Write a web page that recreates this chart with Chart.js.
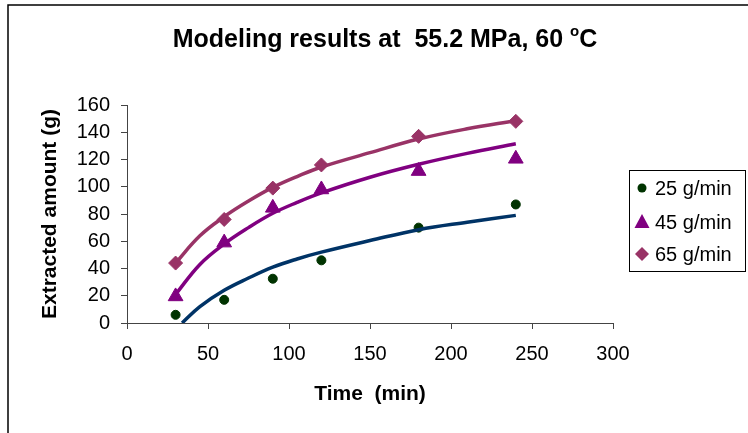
<!DOCTYPE html>
<html>
<head>
<meta charset="utf-8">
<title>Modeling results</title>
<script src="https://cdn.jsdelivr.net/npm/chart.js@4/dist/chart.umd.min.js"></script>
<style>
  html, body { margin: 0; padding: 0; background: #fff; }
  #wrap { width: 748px; height: 433px; }
</style>
</head>
<body>
<div id="wrap"><canvas id="model-chart" width="748" height="433"></canvas></div>
<script>
'use strict';

// measured points
var expTime = [30, 60, 90, 120, 180, 240];
var exp25 = [6, 17, 32.5, 46, 70, 87];
var exp45 = [19.5, 59, 84.5, 98, 111.5, 120.5];
var exp65 = [44, 76, 99, 116, 137, 148];

// model curves
var model25Time = [34, 45, 60, 75, 90, 105, 120, 150, 180, 210, 240];
var model25 = [0, 12, 24, 33, 41, 47, 52, 60.5, 68.5, 74, 79];
var modelTime = [30, 45, 60, 75, 90, 105, 120, 150, 180, 210, 240];
var model45 = [21, 43, 58, 70, 80.5, 88.5, 95.5, 107, 116.5, 124.5, 131.5];
var model65 = [44, 64, 78, 89.5, 99.5, 107.5, 114.5, 125, 135, 142.5, 148.5];

var seriesLabels = ['25 g/min', '45 g/min', '65 g/min'];
var xTicks = [0, 50, 100, 150, 200, 250, 300];
var yTicks = [0, 20, 40, 60, 80, 100, 120, 140, 160];

var FONT = '"Liberation Sans", Arial, sans-serif';
var AXIS_COLOR = '#444';

function toPoints(xs, ys) {
  return xs.map(function(x, i) { return { x: x, y: ys[i] }; });
}

function curve(xs, ys, color) {
  return {
    data: toPoints(xs, ys),
    showLine: true,
    borderColor: color,
    borderWidth: 3.5,
    pointRadius: 0,
    pointHoverRadius: 0,
    tension: 0.4,
    fill: false,
    isModel: true
  };
}

function marks(xs, ys, label, color, style, radius) {
  return {
    label: label,
    data: toPoints(xs, ys),
    showLine: false,
    pointStyle: style,
    pointRadius: radius,
    pointBackgroundColor: color,
    pointBorderColor: color,
    pointBorderWidth: 1,
    backgroundColor: color,
    borderColor: color
  };
}

// frame, title and legend, drawn like the spreadsheet chart
var decorPlugin = {
  id: 'decor',
  beforeDraw: function(chart) {
    var ctx = chart.ctx;
    ctx.save();
    ctx.fillStyle = '#fff';
    ctx.fillRect(0, 0, chart.width, chart.height);
    ctx.strokeStyle = '#000';
    ctx.lineWidth = 1.5;
    ctx.beginPath();
    ctx.moveTo(8, chart.height);
    ctx.lineTo(8, 5);
    ctx.lineTo(chart.width, 5);
    ctx.stroke();
    ctx.restore();
  },
  afterDraw: function(chart) {
    var ctx = chart.ctx;
    ctx.save();

    // title with superscript degree sign
    var main = 'Modeling results at  55.2 MPa, 60 ';
    var big = 'bold 25px ' + FONT;
    var small = 'bold 15px ' + FONT;
    ctx.font = big;
    var w1 = ctx.measureText(main).width;
    var w3 = ctx.measureText('C').width;
    ctx.font = small;
    var w2 = ctx.measureText('o').width;
    var x = 385 - (w1 + w2 + w3) / 2;
    var base = 47;
    ctx.fillStyle = '#000';
    ctx.textBaseline = 'alphabetic';
    ctx.textAlign = 'left';
    ctx.font = big;
    ctx.fillText(main, x, base);
    ctx.font = small;
    ctx.fillText('o', x + w1, base - 11);
    ctx.font = big;
    ctx.fillText('C', x + w1 + w2, base);

    // legend box
    ctx.strokeStyle = '#000';
    ctx.lineWidth = 1;
    ctx.strokeRect(629.5, 170.5, 116, 101);
    ctx.font = '20px ' + FONT;
    ctx.textBaseline = 'middle';
    var rows = [188, 222, 254];
    var sets = chart.data.datasets.filter(function(d) { return !d.isModel; });
    sets.forEach(function(ds, i) {
      var cx = 642, cy = rows[i];
      ctx.fillStyle = ds.pointBackgroundColor;
      ctx.beginPath();
      if (ds.pointStyle === 'circle') {
        ctx.arc(cx, cy, 4.5, 0, Math.PI * 2);
      } else if (ds.pointStyle === 'triangle') {
        ctx.moveTo(cx, cy - 8);
        ctx.lineTo(cx + 7.5, cy + 6);
        ctx.lineTo(cx - 7.5, cy + 6);
        ctx.closePath();
      } else {
        ctx.moveTo(cx, cy - 7);
        ctx.lineTo(cx + 7, cy);
        ctx.lineTo(cx, cy + 7);
        ctx.lineTo(cx - 7, cy);
        ctx.closePath();
      }
      ctx.fill();
      ctx.fillStyle = '#000';
      ctx.fillText(ds.label, 655, cy + 1);
    });
    ctx.restore();
  }
};

function createChart() {
  var ctx = document.getElementById('model-chart').getContext('2d');
  return new Chart(ctx, {
    type: 'scatter',
    data: {
      datasets: [
        curve(model25Time, model25, '#003366'),
        curve(modelTime, model45, '#800080'),
        curve(modelTime, model65, '#993366'),
        marks(expTime, exp25, seriesLabels[0], '#003300', 'circle', 4.5),
        marks(expTime, exp45, seriesLabels[1], '#800080', 'triangle', 8.5),
        marks(expTime, exp65, seriesLabels[2], '#993366', 'rectRot', 7)
      ]
    },
    options: {
      responsive: false,
      animation: false,
      layout: { padding: { top: 105, right: 135, left: 0, bottom: 0 } },
      plugins: {
        legend: { display: false },
        title: { display: false },
        tooltip: { enabled: false }
      },
      scales: {
        x: {
          type: 'linear',
          min: xTicks[0],
          max: xTicks[xTicks.length - 1],
          afterBuildTicks: function(scale) {
            scale.ticks = xTicks.map(function(v) { return { value: v }; });
          },
          afterFit: function(scale) { scale.height = 110; },
          ticks: { color: '#000', padding: 13, font: { family: FONT, size: 20 } },
          grid: { drawOnChartArea: false, drawTicks: true, tickLength: 6, color: AXIS_COLOR },
          border: { color: AXIS_COLOR, width: 1 },
          title: {
            display: true,
            text: 'Time  (min)',
            color: '#000',
            font: { family: FONT, size: 21, weight: 'bold' },
            padding: { top: 0, bottom: 26 }
          }
        },
        y: {
          type: 'linear',
          min: yTicks[0],
          max: yTicks[yTicks.length - 1],
          afterBuildTicks: function(scale) {
            scale.ticks = yTicks.map(function(v) { return { value: v }; });
          },
          afterFit: function(scale) { scale.width = 127; },
          ticks: { color: '#000', padding: 11, font: { family: FONT, size: 20 } },
          grid: { drawOnChartArea: false, drawTicks: true, tickLength: 6, color: AXIS_COLOR },
          border: { color: AXIS_COLOR, width: 1 },
          title: {
            display: true,
            text: 'Extracted amount (g)',
            color: '#000',
            font: { family: FONT, size: 21, weight: 'bold' },
            padding: { top: 38, bottom: 0 }
          }
        }
      }
    },
    plugins: [decorPlugin]
  });
}

createChart();
</script>
</body>
</html>
